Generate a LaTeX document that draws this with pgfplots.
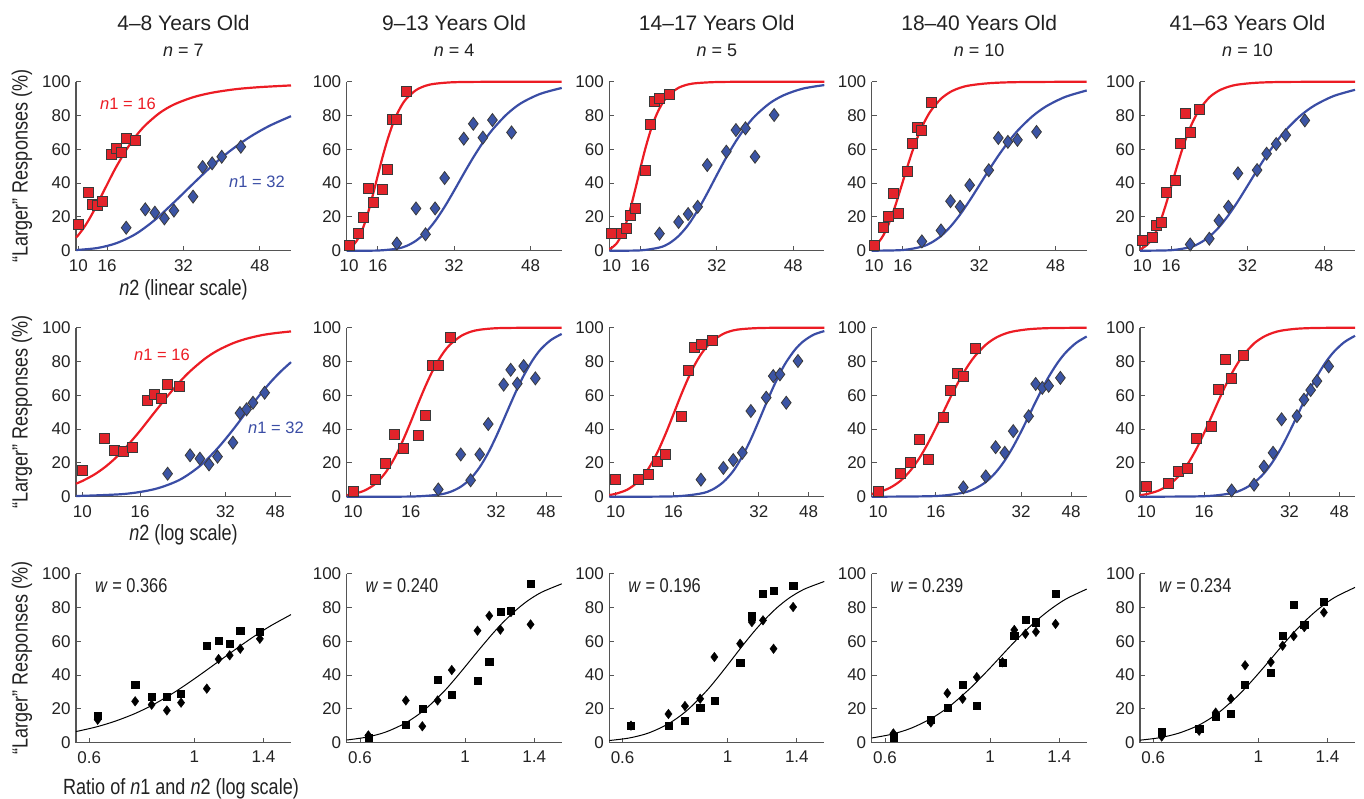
\documentclass[border=0pt]{standalone}
\usepackage{fontspec}
\setmainfont{Liberation Sans}
\newfontfamily\cond{Liberation Sans}[FakeStretch=0.82, Ligatures=TeX]
\usepackage{pgfplots}
\usepackage{pgfplotstable}
\pgfplotsset{compat=1.18}
\newcommand{\fs}[1]{\fontsize{#1}{#1}\selectfont}
\definecolor{axgray}{HTML}{555555}
\definecolor{cred}{HTML}{EC1C24}
\definecolor{cblue}{HTML}{3A4DA5}
\definecolor{mred}{HTML}{E3232A}
\definecolor{mblue}{HTML}{3B54A4}
\definecolor{edge}{HTML}{3A3A3A}
\definecolor{txt}{HTML}{222222}

\pgfplotsset{
  panelbase/.style={scale only axis, width=215pt, height=169pt, anchor=south west,
    ymin=0, ymax=100, ytick={0,20,40,60,80,100},
    axis x line*=bottom, axis y line*=left,
    axis line style={draw=axgray, line width=1.1pt, -},
    every tick/.style={draw=axgray, line width=0.9pt},
    tick align=inside, major tick length=5pt,
    tick label style={font=\fs{17}, text=txt},
    xticklabel style={yshift=-5pt},
    yticklabel style={xshift=-2pt},
    /pgf/number format/assume math mode=true,
    clip=false},
  nticks/.style={xmin=9.5, xmax=54.5, xtick={10,16,32,48}, xticklabels={10,16,32,48}},
  rticks/.style={xmin=0.5625, xmax=1.6, xtick={0.6,1,1.4}, xticklabels={0.6,1,1.4}},
  redc/.style={color=cred, line width=2.2pt, smooth, no marks},
  bluec/.style={color=cblue, line width=2.2pt, smooth, no marks},
  blackc/.style={color=black, line width=1pt, smooth, no marks},
  redm/.style={only marks, mark=square*, mark size=5pt, mark options={fill=mred, draw=edge, line width=0.8pt}},
  bluem/.style={only marks, mark=diamond*, mark size=6.5pt, mark options={fill=mblue, draw=edge, line width=0.8pt}},
  blacksq/.style={only marks, mark=square*, mark size=3.6pt, mark options={fill=black, draw=black}},
  blackdi/.style={only marks, mark=diamond*, mark size=4.8pt, mark options={fill=black, draw=black}},
}

% data: r = n2/n1, a = n2 (n1=16), ya = % larger, b = n2 (n1=32), yb = % larger
\pgfplotstableread{
r a ya b yb
0.625 10 15.8 20 13.6
0.75 12 34.5 24 24.5
0.8125 13 27.2 26 22.5
0.875 14 27.0 28 19.1
0.9375 15 29.2 30 23.7
1.0625 17 57.2 34 32.0
1.125 18 60.5 36 49.5
1.1875 19 58.4 38 51.7
1.25 20 66.5 40 55.6
1.375 22 65.5 44 61.5
}\dataA
\pgfplotstableread{
r a ya b yb
0.625 10 3.2 20 4.3
0.75 12 10.5 24 25
0.8125 13 19.9 26 9.7
0.875 14 37.1 28 25
0.9375 15 28.6 30 43
1.0625 17 36.5 34 66.3
1.125 18 47.9 36 75.1
1.1875 19 77.5 38 66.9
1.25 20 77.9 40 77.3
1.375 22 94.1 44 70
}\dataB
\pgfplotstableread{
r a ya b yb
0.625 10 10.1 20 10.1
0.75 12 10.1 24 17
0.8125 13 13 26 21.7
0.875 14 20.9 28 26
0.9375 15 24.9 30 50.7
1.0625 17 47.3 34 58.6
1.125 18 74.8 36 71.4
1.1875 19 88.2 38 72.4
1.25 20 89.9 40 55.6
1.375 22 92.7 44 80.3
}\dataC
\pgfplotstableread{
r a ya b yb
0.625 10 3.3 20 5.5
0.75 12 13.8 24 12
0.8125 13 20.5 26 29.3
0.875 14 34.1 28 26
0.9375 15 22 30 38.8
1.0625 17 47.2 34 47.6
1.125 18 63.2 36 66.7
1.1875 19 72.8 38 64.4
1.25 20 71.3 40 65.6
1.375 22 88 44 70.3
}\dataD
\pgfplotstableread{
r a ya b yb
0.625 10 6.3 20 3.7
0.75 12 8.1 24 7.1
0.8125 13 15.2 26 17.8
0.875 14 17 28 26
0.9375 15 34.5 30 45.8
1.0625 17 41.4 34 47.7
1.125 18 63.3 36 57.4
1.1875 19 81.5 38 63.1
1.25 20 69.8 40 68.4
1.375 22 83.6 44 77.1
}\dataE

% fitted curves (n2, %)
\pgfplotstableread{
x y
9.5 7.7
10 9.3
11 13.0
12 17.4
13 22.4
14 27.8
15 33.5
16 39.1
17 44.7
18 50
20 59.6
22 67.7
24 74.2
27 81.5
30 86.5
34 90.8
38 93.5
43 95.6
48 96.8
54.5 97.8
}\redA
\pgfplotstableread{
x y
9.5 0.4
14 1.6
18 4.5
22 9.9
26 18.2
30 28.6
34 39.6
38 50.3
42 59.6
46 67.5
50 73.9
54.5 79.6
}\blueA
\pgfplotstableread{
x y
9.5 0.9
10 1.5
11 3.7
12 7.7
13 14.1
14 22.8
15 33.3
16 44.4
17 55.4
18 65.3
19 73.8
20 80.6
21 86.0
22 90.0
24 95.0
26 97.6
28 98.8
32 99.7
40 99.95
54.5 100
}\redB
\pgfplotstableread{
x y
9.5 0
16 0.1
20 1.2
22 2.8
24 5.9
26 10.7
28 17.5
30 26.0
32 35.6
34 45.6
36 55.2
38 64.0
40 71.6
43 80.7
46 87.3
50 92.8
54.5 96.3
}\blueB
\pgfplotstableread{
x y
9.5 1.0
10 1.7
11 4.2
12 8.9
13 16.1
14 25.8
15 37.1
16 48.8
17 60.0
18 69.8
19 77.9
20 84.2
21 88.9
22 92.3
24 96.4
26 98.4
28 99.2
32 99.8
40 100
54.5 100
}\redC
\pgfplotstableread{
x y
9.5 0
16 0.2
20 1.9
22 4.3
24 8.7
26 15.2
28 23.9
30 34.0
32 44.8
34 55.3
36 64.8
38 73.0
40 79.7
43 87.1
46 92.0
50 95.9
54.5 98.0
}\blueC
\pgfplotstableread{
x y
9.5 1.7
10 2.5
11 5.2
12 9.4
13 15.4
14 22.9
15 31.6
16 40.8
17 50
18 58.7
19 66.4
20 73.1
21 78.7
22 83.3
24 89.9
26 94.0
28 96.4
30 97.8
34 99.1
40 99.75
54.5 100
}\redD
\pgfplotstableread{
x y
9.5 0
16 0.4
20 2.4
22 4.8
24 8.7
26 14.3
28 21.4
30 29.7
32 38.6
34 47.6
36 56.2
38 64.0
40 70.9
43 79.2
46 85.4
50 91.0
54.5 94.8
}\blueD
\pgfplotstableread{
x y
9.5 0.9
10 1.5
11 3.5
12 6.9
13 12.2
14 19.4
15 28.1
16 37.8
17 47.6
18 57.0
19 65.5
20 72.8
21 78.9
22 83.8
24 90.7
26 94.7
28 97.0
30 98.3
34 99.4
40 99.86
54.5 100
}\redE
\pgfplotstableread{
x y
9.5 0
16 0.3
20 2.1
22 4.5
24 8.3
26 13.8
28 20.95
30 29.3
32 38.4
34 47.6
36 56.4
38 64.3
40 71.3
43 79.7
46 85.9
50 91.5
54.5 95.2
}\blueE

% ratio curves (r, %)
\pgfplotstableread{
x y
0.5625 6.6
0.62 9.3
0.68 12.7
0.75 17.3
0.82 22.6
0.9 29.2
0.95 33.5
1.0 37.8
1.05 42.0
1.1 46.1
1.15 50
1.2 53.7
1.27 58.6
1.35 63.7
1.45 69.2
1.6 75.8
}\ratA
\pgfplotstableread{
x y
0.5625 1.6
0.62 3.3
0.68 6.3
0.75 11.8
0.82 19.3
0.9 30.0
0.95 37.4
1.0 44.9
1.05 52.2
1.1 59.0
1.15 65.3
1.2 70.9
1.27 77.5
1.35 83.6
1.45 89.0
1.6 94.0
}\ratB
\pgfplotstableread{
x y
0.5625 1.3
0.62 2.8
0.68 5.7
0.75 11.2
0.82 19.0
0.9 30.3
0.95 38.1
1.0 46.0
1.05 53.7
1.1 60.9
1.15 67.4
1.2 73.1
1.27 79.8
1.35 85.7
1.45 90.8
1.6 95.4
}\ratC
\pgfplotstableread{
x y
0.5625 2.8
0.62 5.0
0.68 8.5
0.75 14.2
0.82 21.4
0.9 31.2
0.95 37.7
1.0 44.2
1.05 50.6
1.1 56.7
1.15 62.3
1.2 67.4
1.27 73.6
1.35 79.5
1.45 85.2
1.6 90.9
}\ratD
\pgfplotstableread{
x y
0.5625 1.5
0.62 3.0
0.68 5.7
0.75 10.5
0.82 17.3
0.9 27.1
0.95 33.9
1.0 40.9
1.05 47.8
1.1 54.5
1.15 60.8
1.2 66.5
1.27 73.4
1.35 79.9
1.45 86.0
1.6 91.9
}\ratE

\newcommand{\agecol}[8]{%
\begin{axis}[panelbase, nticks, at={(#1pt,-250.7pt)}]
 \addplot[redc] table {#3};
 \addplot[bluec] table {#4};
 \addplot[redm] table[x=a,y=ya] {#2};
 \addplot[bluem] table[x=b,y=yb] {#2};
\end{axis}
\begin{axis}[xmode=log, panelbase, nticks, at={(#1pt,-496.7pt)}]
 \addplot[redc] table {#3};
 \addplot[bluec] table {#4};
 \addplot[redm] table[x=a,y=ya] {#2};
 \addplot[bluem] table[x=b,y=yb] {#2};
\end{axis}
\begin{axis}[xmode=log, panelbase, rticks, at={(#1pt,-742.7pt)}]
 \addplot[blacksq] table[x=r,y=ya] {#2};
 \addplot[blackdi] table[x=r,y=yb] {#2};
 \addplot[blackc] table {#5};
 \node[anchor=west, font=\cond\fs{20}, text=txt] at (rel axis cs:0.072,0.93) {\textit{w} = #8};
\end{axis}
\node[font=\fs{21}, text=txt] at ({#1pt+107.5pt},-23.3pt) {#6};
\node[font=\fs{18}, text=txt] at ({#1pt+107.5pt},-50pt) {\textit{n} = #7};
}

\begin{document}
\begin{tikzpicture}
\useasboundingbox (0pt,0pt) rectangle (1364pt,-798pt);
\agecol{76}{\dataA}{\redA}{\blueA}{\ratA}{4--8 Years Old}{7}{0.366}
\agecol{346.7}{\dataB}{\redB}{\blueB}{\ratB}{9--13 Years Old}{4}{0.240}
\agecol{609.3}{\dataC}{\redC}{\blueC}{\ratC}{14--17 Years Old}{5}{0.196}
\agecol{871.7}{\dataD}{\redD}{\blueD}{\ratD}{18--40 Years Old}{10}{0.239}
\agecol{1140}{\dataE}{\redE}{\blueE}{\ratE}{41--63 Years Old}{10}{0.234}
% labels of the first column
\node[rotate=90, font=\cond\fs{22}, text=txt] at (22pt,-166pt) {“Larger” Responses (\%)};
\node[rotate=90, font=\cond\fs{22}, text=txt] at (22pt,-412pt) {“Larger” Responses (\%)};
\node[rotate=90, font=\cond\fs{22}, text=txt] at (22pt,-658pt) {“Larger” Responses (\%)};
\node[font=\cond\fs{22}, text=txt] at (183.5pt,-290pt) {\textit{n}2 (linear scale)};
\node[font=\cond\fs{22}, text=txt] at (183.5pt,-535pt) {\textit{n}2 (log scale)};
\node[font=\cond\fs{22}, text=txt] at (181pt,-789pt) {Ratio of \textit{n}1 and \textit{n}2 (log scale)};
\node[font=\fs{16.5}, text=cred] at (128pt,-104pt) {\textit{n}1 = 16};
\node[font=\fs{16.5}, text=cblue] at (257pt,-182pt) {\textit{n}1 = 32};
\node[font=\fs{16.5}, text=cred] at (162pt,-355pt) {\textit{n}1 = 16};
\node[font=\fs{16.5}, text=cblue] at (276pt,-428pt) {\textit{n}1 = 32};
\end{tikzpicture}
\end{document}
